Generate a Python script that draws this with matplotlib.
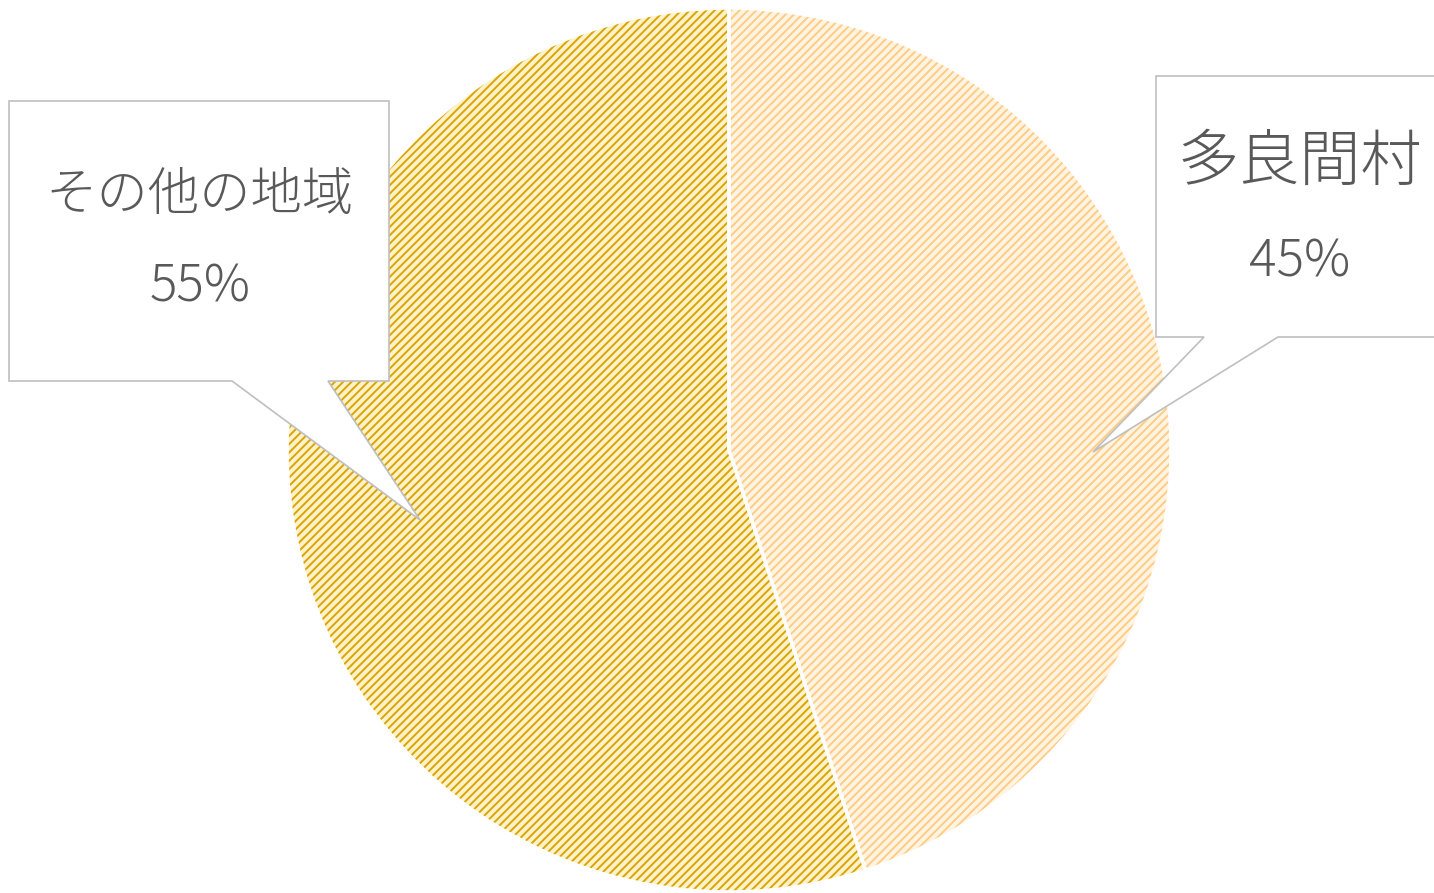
import matplotlib.pyplot as plt
from matplotlib.patches import Polygon

plt.rcParams['font.family'] = ['Noto Sans CJK JP', 'DejaVu Sans']
plt.rcParams['hatch.linewidth'] = 1.4

# data
labels = ['多良間村', 'その他の地域']
shares = [45, 55]
base_colors = ['#FFF4E2', '#FFF2C8']
hatch_colors = ['#FFCC84', '#D9A406']

W, H = 1434, 893


def py(y):
    # pixel row (top-down) -> axes y (bottom-up)
    return H - y


fig = plt.figure(figsize=(W / 100, H / 100), dpi=100)
ax = fig.add_axes([0, 0, 1, 1])

center = (729, py(450))
radius = 442

wedges, _ = ax.pie(shares, startangle=90, counterclock=False,
                   center=center, radius=radius, frame=True)
for w, fc, hc in zip(wedges, base_colors, hatch_colors):
    w.set_facecolor(fc)
    w.set_edgecolor(hc)
    w.set_linewidth(0)
    w.set_hatch('////')

# white separators on top
ax.pie(shares, startangle=90, counterclock=False,
       center=center, radius=radius, frame=True,
       wedgeprops=dict(facecolor='none', edgecolor='white', linewidth=2.5))

ax.set_xlim(0, W)
ax.set_ylim(0, H)
ax.set_aspect('equal')
ax.axis('off')

# callout boxes
left_box = [(9, 101), (389, 101), (389, 381), (328, 381), (420, 520), (232, 381), (9, 381)]
right_box = [(1156, 76), (1440, 76), (1440, 337), (1278, 337), (1093, 452), (1204, 337), (1156, 337)]
for pts in (left_box, right_box):
    poly = Polygon([(x, py(y)) for x, y in pts], closed=True, facecolor='white',
                   edgecolor='#BFBFBF', linewidth=1.2, zorder=5)
    ax.add_patch(poly)

txt = '#595959'
ax.text(200, py(195), labels[1], ha='center', va='center', fontsize=37,
        color=txt, fontweight='light', zorder=6)
ax.text(200, py(287), f'{shares[1]}%', ha='center', va='center', fontsize=37,
        color=txt, fontweight='light', zorder=6)
ax.text(1300, py(163), labels[0], ha='center', va='center', fontsize=44,
        color=txt, fontweight='light', zorder=6)
ax.text(1300, py(262), f'{shares[0]}%', ha='center', va='center', fontsize=37,
        color=txt, fontweight='light', zorder=6)

fig.savefig('out.png', dpi=100)
